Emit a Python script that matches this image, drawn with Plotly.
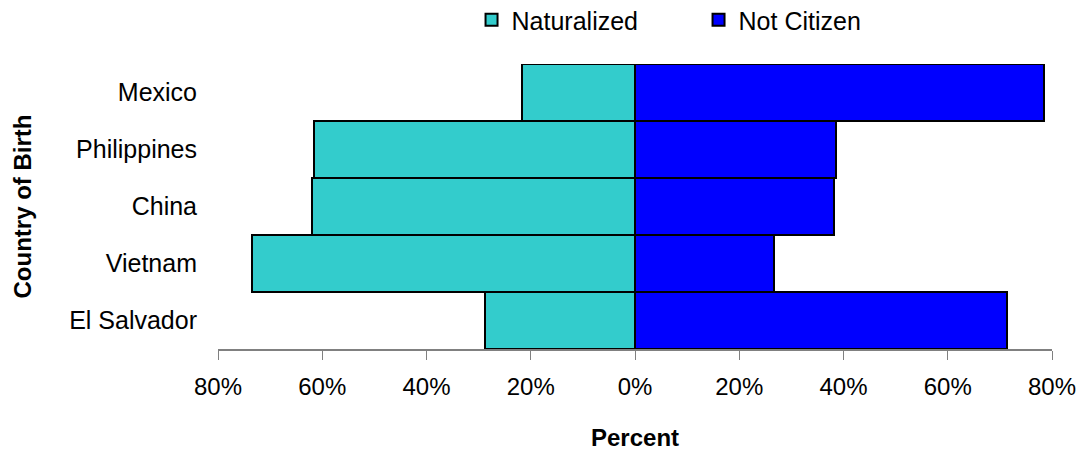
import plotly.graph_objects as go

# data (percent of foreign-born by country)
countries = ["Mexico", "Philippines", "China", "Vietnam", "El Salvador"]
naturalized = [21.6, 61.5, 61.9, 73.4, 28.7]
not_citizen = [78.4, 38.5, 38.1, 26.6, 71.3]
tick_vals = [-80, -60, -40, -20, 0, 20, 40, 60, 80]
tick_text = ["80%", "60%", "40%", "20%", "0%", "20%", "40%", "60%", "80%"]

font_family = "Liberation Sans, Arial, sans-serif"

fig = go.Figure()
fig.add_trace(go.Bar(
    y=countries, x=[-v for v in naturalized], orientation="h",
    name="Naturalized",
    marker=dict(color="#33CCCC", line=dict(color="black", width=2)),
))
fig.add_trace(go.Bar(
    y=countries, x=not_citizen, orientation="h",
    name="Not Citizen",
    marker=dict(color="#0000FF", line=dict(color="black", width=2)),
))

fig.update_layout(
    width=1077, height=455,
    barmode="relative", bargap=0,
    plot_bgcolor="white", paper_bgcolor="white",
    font=dict(family=font_family, size=24, color="black"),
    margin=dict(l=218, r=25, t=64, b=106),
    legend=dict(orientation="h", x=0.304, xanchor="left",
                yref="container", y=0.956, yanchor="middle",
                font=dict(size=25), itemwidth=30, entrywidth=182,
                entrywidthmode="pixels", traceorder="normal"),
    xaxis=dict(
        range=[-80, 80], tickvals=tick_vals, ticktext=tick_text,
        showgrid=False, zeroline=False, automargin=False,
        showline=True, linecolor="#808080", linewidth=2,
        ticks="outside", ticklen=9, tickcolor="#808080", tickwidth=1,
        ticklabelstandoff=6,
    ),
    yaxis=dict(
        autorange="reversed", showgrid=False, zeroline=False, showline=False,
        automargin=False, ticks="", ticklabelstandoff=20,
        tickfont=dict(size=25),
    ),
    annotations=[
        dict(text="<b>Percent</b>", xref="paper", yref="paper", x=0.5, y=-0.309,
             xanchor="center", yanchor="middle", showarrow=False, font=dict(size=24)),
        dict(text="<b>Country of Birth</b>", xref="paper", yref="paper", x=-0.235, y=0.5,
             xanchor="center", yanchor="middle", textangle=-90, showarrow=False,
             font=dict(size=24)),
    ],
)

# drop the page's default 8px body margin so the figure sits at the corner
fig.write_html("out.html", config={"displayModeBar": False},
               post_script="document.body.style.margin='0';")
